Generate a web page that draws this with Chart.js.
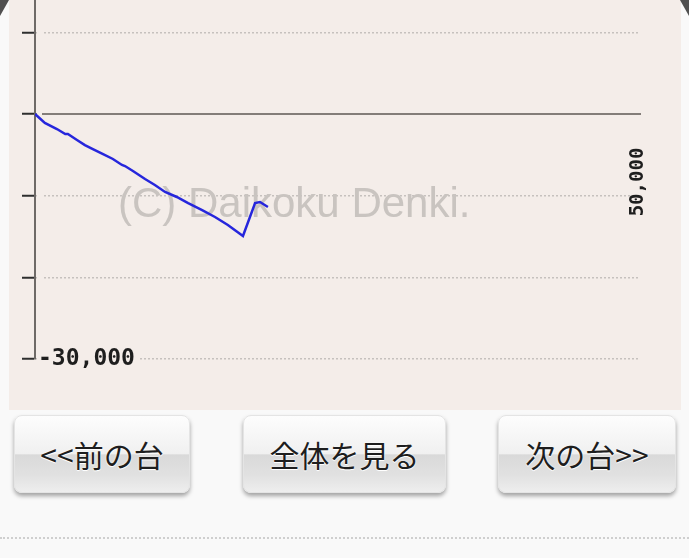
<!DOCTYPE html>
<html>
<head>
<meta charset="utf-8">
<script src="https://cdn.jsdelivr.net/npm/chart.js@4/dist/chart.umd.min.js"></script>
<style>
  html, body { margin: 0; padding: 0; }
  body { width: 689px; height: 558px; background: #f9f9f9; position: relative; overflow: hidden; font-family: "Noto Sans CJK JP", "Noto Sans", sans-serif; }
  #panel { position: absolute; left: 9px; top: 0; width: 672px; height: 410px; background: #f4ede9; }
  #wrap { position: absolute; left: 0; top: 0; width: 689px; height: 410px; }
  .cornerL { position: absolute; left: 0; top: 0; width: 0; height: 0; border-top: 16px solid #505050; border-right: 9px solid transparent; }
  .cornerR { position: absolute; right: 0; top: 0; width: 0; height: 0; border-top: 16px solid #505050; border-left: 9px solid transparent; }
  .btn { position: absolute; top: 415px; height: 78px; border-radius: 8px; box-sizing: border-box;
    border: 1px solid #e4e4e4;
    background: linear-gradient(to bottom, #fdfdfd 0%, #f0f0f0 50%, #d9d9d9 51%, #e1e1e1 78%, #eeeeee 100%);
    box-shadow: 0 3px 4px rgba(0,0,0,0.35);
    font-size: 30px; color: #1e1e1e; text-shadow: 0 0 2px #ffffff, 0 1px 0 #ffffff;
    display: flex; align-items: center; justify-content: center; }
  #dots { position: absolute; left: 0; top: 537px; width: 689px; border-top: 2px dotted #cfcfcf; }
</style>
</head>
<body>
<div id="panel"></div>
<div class="cornerL"></div>
<div class="cornerR"></div>
<div id="wrap"><canvas id="c" width="689" height="410"></canvas></div>
<div class="btn" style="left:14px;width:176px;">&lt;&lt;前の台</div>
<div class="btn" style="left:243px;width:203px;">全体を見る</div>
<div class="btn" style="left:498px;width:178px;">次の台&gt;&gt;</div>
<div id="dots"></div>
<script>
// ---- data ----
const games = [0, 130, 290, 400, 435, 555, 660, 765, 900, 1030, 1150, 1190, 1295, 1455, 1585, 1720, 1875, 2025, 2210, 2380, 2550, 2750, 2910, 2975, 3080];
const diff  = [0, -1100, -1840, -2450, -2450, -3180, -3800, -4290, -4900, -5510, -6240, -6370, -6980, -7960, -8690, -9550, -10160, -10900, -11760, -12610, -13590, -14940, -10900, -10780, -11390];
const yTickValues = [10000, 0, -10000, -20000, -30000];
const yTickLabels = ['', '', '', '', '-30,000'];
const xMin = 0, xMax = 8000;
const yMin = -30000, yMax = 13960;
const watermark = '(C) Daikoku Denki.';
const sideLabel = '50,000';

const points = games.map((g, i) => ({ x: g, y: diff[i] }));

const textPlugin = {
  id: 'texts',
  beforeDatasetsDraw(chart) {
    const ctx = chart.ctx, a = chart.chartArea;
    ctx.save();
    ctx.font = '42px "Liberation Sans"';
    ctx.fillStyle = '#c9c4c0';
    ctx.textBaseline = 'alphabetic';
    ctx.textAlign = 'left';
    ctx.fillText(watermark, a.left + 83, 217);
    ctx.restore();
  },
  afterDraw(chart) {
    const ctx = chart.ctx, a = chart.chartArea;
    ctx.save();
    ctx.translate(a.right + 3, 182);
    ctx.rotate(-Math.PI / 2);
    ctx.font = 'bold 19px "DejaVu Sans Mono"';
    ctx.fillStyle = '#1e1e1e';
    ctx.textAlign = 'center';
    ctx.textBaseline = 'alphabetic';
    ctx.fillText(sideLabel, 0, 0);
    ctx.restore();
  }
};

new Chart(document.getElementById('c'), {
  type: 'line',
  data: {
    datasets: [{
      data: points,
      borderColor: '#2626dc',
      borderWidth: 2.5,
      pointRadius: 0,
      tension: 0,
      fill: false
    }]
  },
  options: {
    responsive: false,
    animation: false,
    events: [],
    layout: { padding: { left: 22, right: 49, top: 0, bottom: 51 } },
    plugins: { legend: { display: false }, tooltip: { enabled: false }, title: { display: false } },
    scales: {
      x: {
        type: 'linear',
        min: xMin, max: xMax,
        position: { y: 0 },
        ticks: { display: false },
        grid: { display: true, drawOnChartArea: false, drawTicks: false },
        border: { display: true, color: '#837d79', width: 2 }
      },
      y: {
        type: 'linear',
        min: yMin, max: yMax,
        afterBuildTicks: (s) => { s.ticks = yTickValues.map(v => ({ value: v })); },
        afterFit: (s) => { s.paddingTop = 0; s.paddingBottom = 0; s.width = 13; },
        ticks: {
          mirror: true,
          padding: 3,
          color: '#1e1e1e',
          font: { family: 'DejaVu Sans Mono', size: 23, weight: 'bold' },
          callback: (v, i) => yTickLabels[i],
          showLabelBackdrop: true,
          backdropColor: '#f4ede9',
          backdropPadding: { top: 0, bottom: 0, left: 1, right: 4 }
        },
        grid: {
          color: '#c6c1be',
          lineWidth: 1.5,
          tickLength: 13,
          tickColor: '#2e2e2e',
          tickWidth: 2
        },
        border: { display: true, color: '#6e6a67', width: 2, dash: [2, 2] }
      }
    }
  },
  plugins: [textPlugin]
});
</script>
</body>
</html>
